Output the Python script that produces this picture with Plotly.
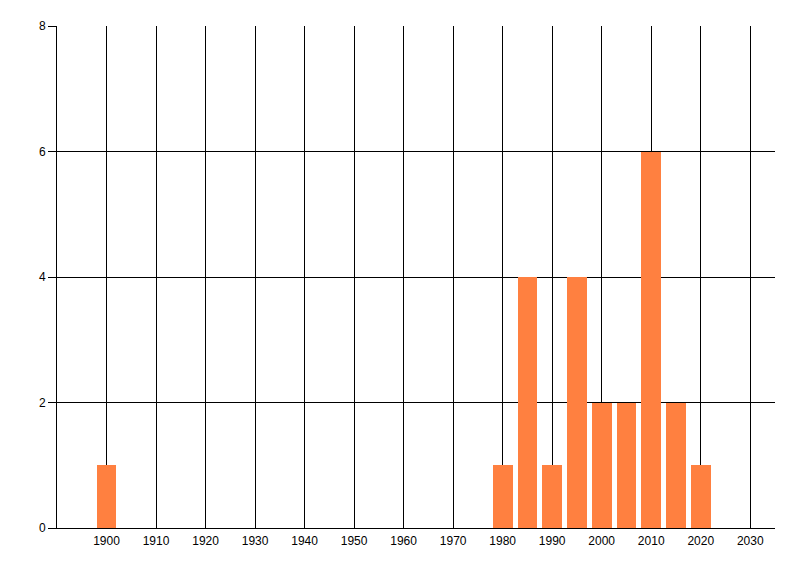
import plotly.graph_objects as go

# values
years = [1900, 1980, 1985, 1990, 1995, 2000, 2005, 2010, 2015, 2020]
counts = [1, 1, 4, 1, 4, 2, 2, 6, 2, 1]
x_ticks = list(range(1900, 2031, 10))
y_ticks = [0, 2, 4, 6, 8]

fig = go.Figure(go.Bar(
    x=years, y=counts, width=4,
    marker=dict(color="#FF8040", line=dict(width=0)),
    hovertemplate="%{x}: %{y}<extra></extra>",
))

axis_font = dict(family="Liberation Sans, Arial, sans-serif", size=12, color="#000000")

# the page body adds 8px around the figure, so margins are shifted to match
fig.update_layout(
    width=800, height=576,
    margin=dict(l=49, r=33, t=18, b=56, autoexpand=False),
    paper_bgcolor="white", plot_bgcolor="white",
    showlegend=False, bargap=0,
    font=axis_font,
)
fig.update_xaxes(
    range=[1890, 2035], tickvals=x_ticks, ticktext=[str(v) for v in x_ticks],
    showgrid=True, gridcolor="#000000", gridwidth=1,
    showline=True, linecolor="#000000", linewidth=1,
    zeroline=False, ticks="outside", ticklen=2, tickcolor="rgba(0,0,0,0)",
    tickfont=axis_font, fixedrange=True,
)
fig.update_yaxes(
    range=[0, 8], tickvals=y_ticks,
    showgrid=True, gridcolor="#000000", gridwidth=1,
    showline=True, linecolor="#000000", linewidth=1,
    zeroline=False, ticks="outside", ticklen=8, tickcolor="#000000",
    tickfont=axis_font, fixedrange=True,
)

fig.write_html("out.html")
